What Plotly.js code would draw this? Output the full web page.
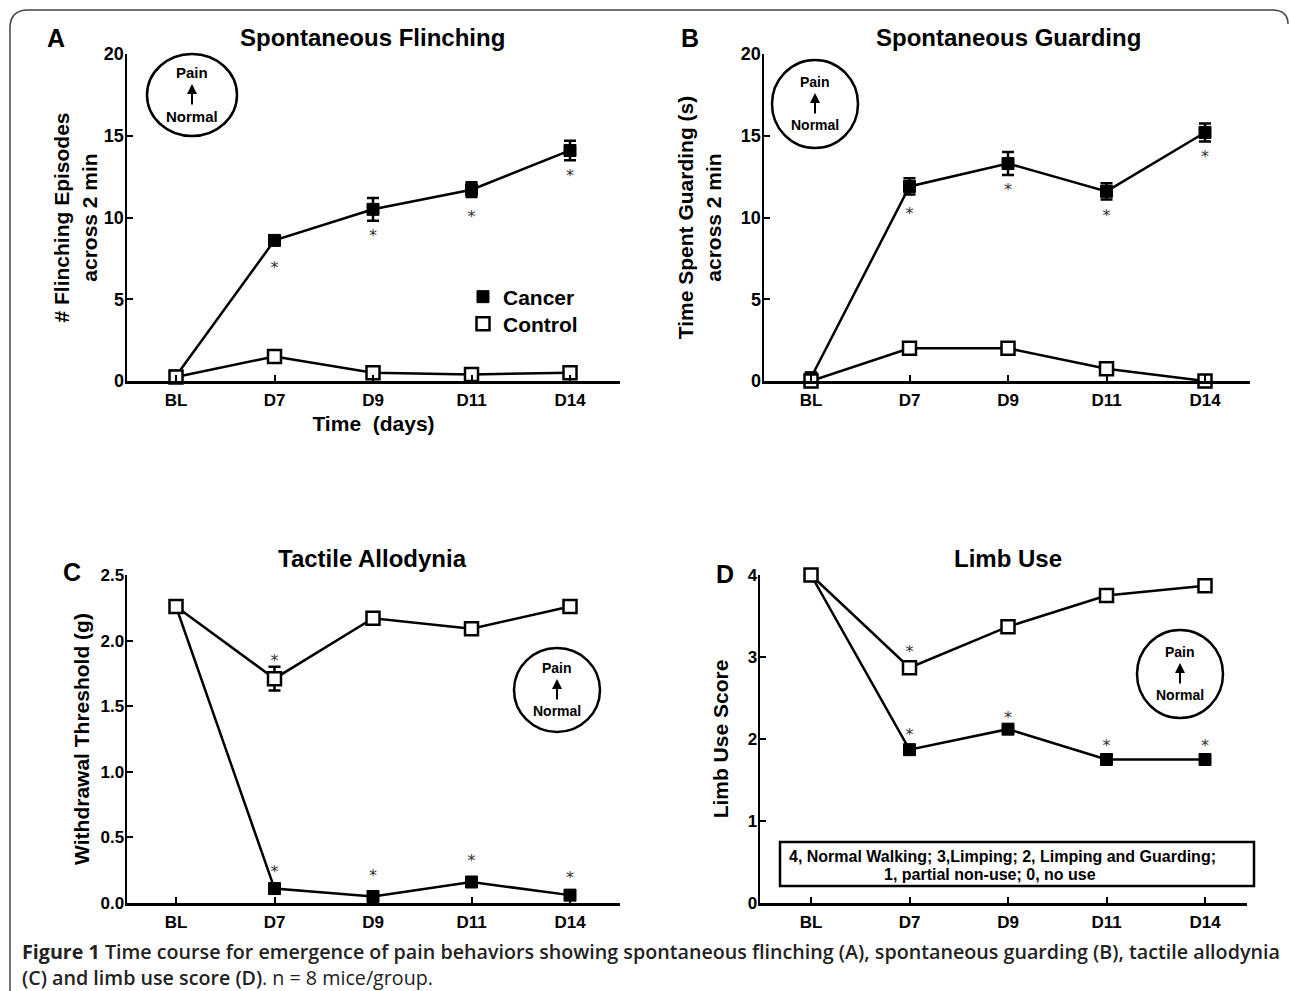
<!DOCTYPE html>
<html>
<head>
<meta charset="utf-8">
<script src="https://cdn.plot.ly/plotly-3.0.1.min.js"></script>
<style>html,body{margin:0;padding:0;background:#fff;}#chart{width:1290px;height:991px;}</style>
</head>
<body>
<div id="chart"></div>
<script>
// ---- data ----
const timepoints = ['BL', 'D7', 'D9', 'D11', 'D14'];

// A: Spontaneous flinching
const flinchCancer = [0.3, 8.6, 10.5, 11.7, 14.1];
const flinchCancerErr = [0, 0.2, 0.7, 0.45, 0.6];
const flinchControl = [0.25, 1.5, 0.5, 0.4, 0.5];
const flinchStars = [null, 6.85, 8.8, 9.95, 12.45];

// B: Spontaneous guarding
const guardCancer = [0.2, 11.9, 13.3, 11.6, 15.2];
const guardCancerErr = [0.15, 0.5, 0.7, 0.5, 0.55];
const guardControl = [0, 2, 2, 0.75, 0];
const guardStars = [null, 10.15, 11.65, 10.05, 13.65];

// C: Tactile allodynia
const allodCancer = [2.26, 0.11, 0.05, 0.16, 0.06];
const allodControl = [2.26, 1.71, 2.17, 2.09, 2.26];
const allodControlErr = [0, 0.09, 0, 0, 0];
const allodCancerStars = [null, 0.23, 0.2, 0.31, 0.18];
const allodControlStars = [null, 1.84, null, null, null];

// D: Limb use
const limbCancer = [4, 1.87, 2.12, 1.75, 1.75];
const limbControl = [4, 2.87, 3.37, 3.75, 3.87];
const limbCancerStars = [null, 2.04, 2.24, 1.9, 1.9];
const limbControlStars = [null, 3.05, null, null, null];

const W = 1290, H = 991;
const px = v => v / W;
const py = v => 1 - v / H;
const idx = timepoints.map((_, i) => i);

const FONT = 'Liberation Sans, Arial, sans-serif';
const lineStyle = {color: '#000', width: 2.5};
const cancerMarker = {symbol: 'square', size: 12, color: '#000', line: {color: '#000', width: 1}};
const controlMarker = {symbol: 'square', size: 13, color: '#fff', line: {color: '#000', width: 2.5}};

function cancerTrace(y, err, xa, ya) {
  const t = {
    x: idx, y: y, xaxis: xa, yaxis: ya, mode: 'lines+markers', showlegend: false, cliponaxis: false,
    line: lineStyle, marker: cancerMarker
  };
  if (err) t.error_y = {type: 'data', array: err, visible: true, color: '#000', thickness: 2.5, width: 6};
  return t;
}
function controlTrace(y, err, xa, ya) {
  const t = {
    x: idx, y: y, xaxis: xa, yaxis: ya, mode: 'lines+markers', showlegend: false, cliponaxis: false,
    line: lineStyle, marker: controlMarker
  };
  if (err) t.error_y = {type: 'data', array: err, visible: true, color: '#000', thickness: 2.5, width: 6};
  return t;
}
function starTrace(y, xa, ya) {
  return {
    x: idx, y: y, xaxis: xa, yaxis: ya, mode: 'text', text: y.map(v => v === null ? '' : '*'),
    textposition: 'middle center', showlegend: false, cliponaxis: false, hoverinfo: 'skip',
    textfont: {family: 'DejaVu Sans, sans-serif', size: 16, color: '#333'}
  };
}

const traces = [
  cancerTrace(flinchCancer, flinchCancerErr, 'x', 'y'),
  controlTrace(flinchControl, null, 'x', 'y'),
  starTrace(flinchStars, 'x', 'y'),
  cancerTrace(guardCancer, guardCancerErr, 'x2', 'y2'),
  controlTrace(guardControl, null, 'x2', 'y2'),
  starTrace(guardStars, 'x2', 'y2'),
  cancerTrace(allodCancer, null, 'x3', 'y3'),
  controlTrace(allodControl, allodControlErr, 'x3', 'y3'),
  starTrace(allodCancerStars, 'x3', 'y3'),
  starTrace(allodControlStars, 'x3', 'y3'),
  cancerTrace(limbCancer, null, 'x4', 'y4'),
  controlTrace(limbControl, null, 'x4', 'y4'),
  starTrace(limbCancerStars, 'x4', 'y4'),
  starTrace(limbControlStars, 'x4', 'y4'),
  // legend entries (markers only)
  {x: [null], y: [null], xaxis: 'x', yaxis: 'y', mode: 'markers', name: 'Cancer', showlegend: true,
   legend: 'legend', marker: cancerMarker},
  {x: [null], y: [null], xaxis: 'x', yaxis: 'y', mode: 'markers', name: 'Control', showlegend: true,
   legend: 'legend2', marker: controlMarker}
];

function xaxisDef(x0, x1, bl, d14) {
  const step = (d14 - bl) / 4;
  return {
    domain: [px(x0), px(x1)], range: [-(bl - x0) / step, 4 + (x1 - d14) / step],
    tickvals: idx, ticktext: timepoints, ticks: 'inside', ticklen: 6, tickwidth: 2, tickcolor: '#000',
    ticklabelstandoff: 2,
    showline: true, linecolor: '#000', linewidth: 2.5, showgrid: false, zeroline: false, fixedrange: true,
    tickfont: {family: FONT, size: 17, color: '#000', weight: 'bold'}
  };
}
function yaxisDef(y0, y1, range, dtick, fmt, title, standoff, tsize) {
  return {
    domain: [py(y0), py(y1)], range: range, dtick: dtick, tickformat: fmt,
    ticks: 'inside', ticklen: 6, tickwidth: 2, tickcolor: '#000', ticklabelstandoff: -3,
    showline: true, linecolor: '#000', linewidth: 2.5, showgrid: false, zeroline: false, fixedrange: true,
    tickfont: {family: FONT, size: tsize, color: '#000', weight: 'bold'},
    title: {text: title, standoff: standoff, font: {family: FONT, size: 21, color: '#000', weight: 'bold'}}
  };
}

const legendBase = {xanchor: 'left', yanchor: 'middle', bgcolor: 'rgba(0,0,0,0)', borderwidth: 0,
  font: {family: FONT, size: 21, color: '#000', weight: 'bold'}};

const layout = {
  width: W, height: H,
  margin: {l: 0, r: 0, t: 0, b: 0},
  paper_bgcolor: '#fff', plot_bgcolor: 'rgba(0,0,0,0)',
  font: {family: FONT, color: '#000'},
  showlegend: true,
  legend: Object.assign({x: px(463), y: py(297)}, legendBase),
  legend2: Object.assign({x: px(463), y: py(324)}, legendBase),
  xaxis: Object.assign(xaxisDef(127, 620, 176, 570), {anchor: 'y',
    title: {text: 'Time  (days)', standoff: 8, font: {family: FONT, size: 21, color: '#000', weight: 'bold'}}}),
  yaxis: Object.assign(yaxisDef(381, 54, [0, 20], 5, '', '# Flinching Episodes<br>across 2 min', 1, 18), {anchor: 'x'}),
  xaxis2: Object.assign(xaxisDef(764, 1250, 811, 1205), {anchor: 'y2'}),
  yaxis2: Object.assign(yaxisDef(381, 54, [0, 20], 5, '', 'Time Spent Guarding (s)<br>across 2 min', 14, 18), {anchor: 'x2'}),
  xaxis3: Object.assign(xaxisDef(127, 620, 176, 570), {anchor: 'y3'}),
  yaxis3: Object.assign(yaxisDef(903, 575, [0, 2.5], 0.5, '.1f', 'Withdrawal Threshold (g)', 5, 17), {anchor: 'x3'}),
  xaxis4: Object.assign(xaxisDef(760, 1247, 811, 1205), {anchor: 'y4'}),
  yaxis4: Object.assign(yaxisDef(903, 575, [0, 4], 1, '', 'Limb Use Score', 14, 17), {anchor: 'x4'}),
  shapes: [],
  annotations: []
};

function note(x, y, text, font, extra) {
  return Object.assign({xref: 'paper', yref: 'paper', x: px(x), y: py(y), xanchor: 'center', yanchor: 'middle',
    text: text, showarrow: false, font: font}, extra || {});
}

// Outer rounded frame (top + left edges, top-right corner)
layout.shapes.push({type: 'path', xref: 'paper', yref: 'paper',
  path: `M ${px(10)} ${py(991)} L ${px(10)} ${py(28)} Q ${px(10)} ${py(10)} ${px(28)} ${py(10)} L ${px(1272)} ${py(10)} Q ${px(1288)} ${py(10)} ${px(1288)} ${py(24)}`,
  line: {color: '#444', width: 1.5}});

// Limb-use scoring key box
layout.shapes.push({type: 'rect', xref: 'paper', yref: 'paper',
  x0: px(780), x1: px(1254), y0: py(886), y1: py(842), line: {color: '#000', width: 2.5}, fillcolor: '#fff'});
const keyFont = {family: FONT, size: 16, color: '#000', weight: 'bold'};
layout.annotations.push(note(1002, 856, '4, Normal Walking; 3,Limping; 2, Limping and Guarding;', keyFont));
layout.annotations.push(note(990, 874, '1, partial non-use; 0, no use', keyFont));

// Pain/Normal circles
const circles = [
  {cx: 192, cy: 95, rx: 45, ry: 41, fs: 15},
  {cx: 815, cy: 104, rx: 43, ry: 44, fs: 14},
  {cx: 557, cy: 690, rx: 43, ry: 42, fs: 14},
  {cx: 1180, cy: 674, rx: 43, ry: 44, fs: 14}
];
circles.forEach(c => {
  layout.shapes.push({type: 'circle', xref: 'paper', yref: 'paper',
    x0: px(c.cx - c.rx), x1: px(c.cx + c.rx), y0: py(c.cy + c.ry), y1: py(c.cy - c.ry),
    line: {color: '#000', width: 2.5}});
  const f = {family: FONT, size: c.fs, color: '#000', weight: 'bold'};
  layout.annotations.push(note(c.cx, c.cy - 22, 'Pain', f));
  layout.annotations.push(note(c.cx, c.cy + 21, 'Normal', f));
  layout.annotations.push({xref: 'paper', yref: 'paper', x: px(c.cx), y: py(c.cy - 11), ax: 0, ay: 22,
    text: '', showarrow: true, arrowhead: 2, arrowsize: 1, arrowwidth: 2, arrowcolor: '#000', standoff: 0});
});

// Panel titles and letters
const titleFont = {family: FONT, size: 24, color: '#000', weight: 'bold'};
[
  {t: 'Spontaneous Flinching', x: 372, y: 37},
  {t: 'Spontaneous Guarding', x: 1008, y: 37},
  {t: 'Tactile Allodynia', x: 372, y: 558},
  {t: 'Limb Use', x: 1008, y: 558}
].forEach(o => layout.annotations.push(note(o.x, o.y, o.t, titleFont)));
const letterFont = {family: FONT, size: 25, color: '#000', weight: 'bold'};
[
  {t: 'A', x: 56, y: 38}, {t: 'B', x: 690, y: 38}, {t: 'C', x: 72, y: 572}, {t: 'D', x: 725, y: 574}
].forEach(o => layout.annotations.push(note(o.x, o.y, o.t, letterFont)));

// Caption
const CAP = 'Open Sans, Noto Sans, sans-serif';
const capFont = {family: CAP, size: 19.7, color: '#222', weight: 600};
layout.annotations.push(note(20, 951,
  '<b>Figure 1</b> Time course for emergence of pain behaviors showing spontaneous flinching (A), spontaneous guarding (B), tactile allodynia',
  capFont, {xanchor: 'left'}));
layout.annotations.push(note(20, 977, '(C) and limb use score (D)', capFont, {xanchor: 'left'}));
layout.annotations.push(note(260, 977, '. n = 8 mice/group.',
  {family: CAP, size: 19.7, color: '#222', weight: 400}, {xanchor: 'left'}));

Plotly.newPlot('chart', traces, layout, {displayModeBar: false, staticPlot: true});
</script>
</body>
</html>
